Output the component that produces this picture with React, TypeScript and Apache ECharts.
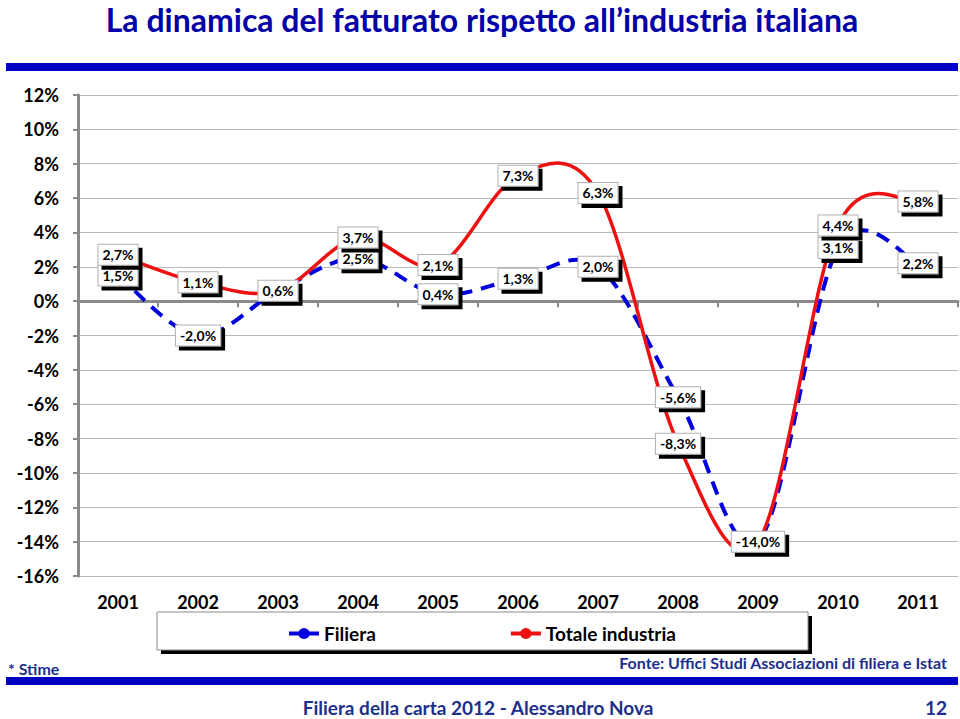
import React, { useEffect, useRef } from 'react';
import * as echarts from 'echarts';

const years = ['2001', '2002', '2003', '2004', '2005', '2006', '2007', '2008', '2009', '2010', '2011'];
const filiera = [1.5, -2.0, 0.6, 2.5, 0.4, 1.3, 2.0, -5.6, -14.0, 3.1, 2.2];
const totaleIndustria = [2.7, 1.1, 0.6, 3.7, 2.1, 7.3, 6.3, -8.3, -14.0, 4.4, 5.8];
const yMin = -16;
const yMax = 12;
const yStep = 2;

const titleText = 'La dinamica del fatturato rispetto all\u2019industria italiana';
const noteText = '* Stime';
const sourceText = 'Fonte: Uffici Studi Associazioni di filiera e Istat';
const footerText = 'Filiera della carta 2012 - Alessandro Nova';
const pageText = '12';

const FONT = 'Lato, "Open Sans", "DejaVu Sans", sans-serif';
const BLUE = '#0000dd';
const RED = '#ee1111';
const BAND = '#0000c4';
const NAVY = '#1c2f8c';
const AXIS = '#8a8a8a';

const fmt = (v: number) => v.toFixed(1).replace('.', ',') + '%';

// Excel-like smooth curve (Catmull-Rom converted to cubic Bezier)
const curvePath = (pts: number[][]) => {
  let d = `M${pts[0][0]},${pts[0][1]}`;
  for (let i = 0; i < pts.length - 1; i++) {
    const p0 = pts[i - 1] || pts[i];
    const p1 = pts[i];
    const p2 = pts[i + 1];
    const p3 = pts[i + 2] || p2;
    const c1x = p1[0] + (p2[0] - p0[0]) / 6;
    const c1y = p1[1] + (p2[1] - p0[1]) / 6;
    const c2x = p2[0] - (p3[0] - p1[0]) / 6;
    const c2y = p2[1] - (p3[1] - p1[1]) / 6;
    d += ` C${c1x},${c1y} ${c2x},${c2y} ${p2[0]},${p2[1]}`;
  }
  return d;
};

export default function App() {
  const ref = useRef<HTMLDivElement>(null);
  useEffect(() => {
    document.body.style.margin = '0';
    const chart = echarts.init(ref.current!, null, { renderer: 'svg' });

    const labelStyle = {
      show: true,
      position: 'inside',
      formatter: (p: any) => fmt(p.value as number),
      fontFamily: FONT,
      fontWeight: 'bold',
      fontSize: 14,
      lineHeight: 15,
      padding: [3, 4, 2, 4],
      color: '#000',
      backgroundColor: '#ffffff',
      borderColor: '#b0b0b0',
      borderWidth: 1,
      shadowColor: '#000',
      shadowOffsetX: 4,
      shadowOffsetY: 4,
      shadowBlur: 0,
      opacity: 1,
    };
    // one label per point; where both series share the same value only one box is drawn
    const labelSeries = (values: number[], other: number[] | null) => ({
      type: 'scatter',
      data: values.map((v, i) => (other && other[i] === v ? { value: v, label: { show: false } } : v)),
      symbolSize: 1,
      silent: true,
      z: 10,
      itemStyle: { color: 'rgba(0,0,0,0)', opacity: 1 },
      label: labelStyle,
    });
    const curveSeries = (values: number[], color: string, width: number, dash: number[] | null) => ({
      type: 'custom',
      data: values.map((v, i) => [i, v]),
      silent: true,
      z: 3,
      renderItem: (params: any, api: any) => {
        if (params.dataIndex !== 0) return null;
        const pts = values.map((v, i) => api.coord([i, v]));
        return {
          type: 'path',
          shape: { pathData: curvePath(pts) },
          style: {
            fill: 'none',
            stroke: color,
            lineWidth: width,
            lineDash: dash || undefined,
            lineCap: 'butt',
          },
        };
      },
    });
    const text = (x: number, y: number, t: string, size: number, color: string, align: string) => ({
      type: 'text',
      x,
      y,
      silent: true,
      style: {
        text: t,
        fill: color,
        fontFamily: FONT,
        fontWeight: 'bold',
        fontSize: size,
        align,
        textAlign: align,
        verticalAlign: 'middle',
        textVerticalAlign: 'middle',
      },
    });

    chart.setOption({
      animation: false,
      backgroundColor: '#fff',
      grid: { left: 78, right: 2, top: 95, bottom: 143, containLabel: false },
      xAxis: [
        {
          type: 'category',
          data: years,
          boundaryGap: true,
          axisLine: { show: true, onZero: true, lineStyle: { color: AXIS, width: 3 } },
          axisTick: { show: true, length: 6, lineStyle: { color: AXIS, width: 2 } },
          axisLabel: { show: false },
          splitLine: { show: false },
        },
        {
          type: 'category',
          data: years,
          position: 'bottom',
          boundaryGap: true,
          axisLine: { show: false, onZero: false },
          axisTick: { show: false },
          axisLabel: { margin: 17, fontFamily: FONT, fontWeight: 'bold', fontSize: 18, color: '#000' },
          splitLine: { show: false },
        },
      ],
      yAxis: {
        type: 'value',
        min: yMin,
        max: yMax,
        interval: yStep,
        axisLine: { show: true, lineStyle: { color: AXIS, width: 3 } },
        axisTick: { show: true, length: 5, lineStyle: { color: AXIS, width: 2 } },
        axisLabel: {
          formatter: (v: number) => v + '%',
          margin: 19,
          fontFamily: FONT,
          fontWeight: 'bold',
          fontSize: 18,
          color: '#000',
        },
        splitLine: { show: true, lineStyle: { color: '#b8b8b8', width: 1 } },
      },
      legend: {
        data: ['Filiera', 'Totale industria'],
        left: 287,
        top: 624,
        itemWidth: 30,
        itemHeight: 14,
        itemGap: 133,
        padding: 0,
        textStyle: { fontFamily: FONT, fontWeight: 'bold', fontSize: 19, color: '#000' },
        lineStyle: { type: 'solid', width: 4 },
      },
      graphic: [
        { type: 'rect', silent: true, shape: { x: 6, y: 63, width: 952, height: 8 }, style: { fill: BAND } },
        { type: 'rect', silent: true, shape: { x: 6, y: 677, width: 952, height: 8 }, style: { fill: BAND } },
        { type: 'rect', silent: true, z: -2, shape: { x: 161, y: 616, width: 651, height: 38 }, style: { fill: '#000' } },
        {
          type: 'rect',
          silent: true,
          z: -1,
          shape: { x: 157, y: 612, width: 651, height: 38 },
          style: { fill: '#fff', stroke: '#8a8a8a', lineWidth: 1 },
        },
        text(482, 19, titleText, 32, '#0000a8', 'center'),
        text(8, 668, noteText, 16, NAVY, 'left'),
        text(947, 662, sourceText, 16, NAVY, 'right'),
        text(478, 707, footerText, 19, NAVY, 'center'),
        text(947, 707, pageText, 19, NAVY, 'right'),
      ],
      series: [
        {
          name: 'Filiera',
          type: 'line',
          data: [],
          symbol: 'circle',
          symbolSize: 8,
          itemStyle: { color: BLUE },
          lineStyle: { color: BLUE, width: 4 },
        },
        {
          name: 'Totale industria',
          type: 'line',
          data: [],
          symbol: 'circle',
          symbolSize: 8,
          itemStyle: { color: RED },
          lineStyle: { color: RED, width: 4 },
        },
        curveSeries(filiera, BLUE, 4, [14, 9]),
        curveSeries(totaleIndustria, RED, 3.5, null),
        labelSeries(filiera, totaleIndustria),
        labelSeries(totaleIndustria, null),
      ],
    });
    return () => chart.dispose();
  }, []);
  return <div ref={ref} style={{ position: 'absolute', left: 0, top: 0, width: 960, height: 719 }} />;
}
